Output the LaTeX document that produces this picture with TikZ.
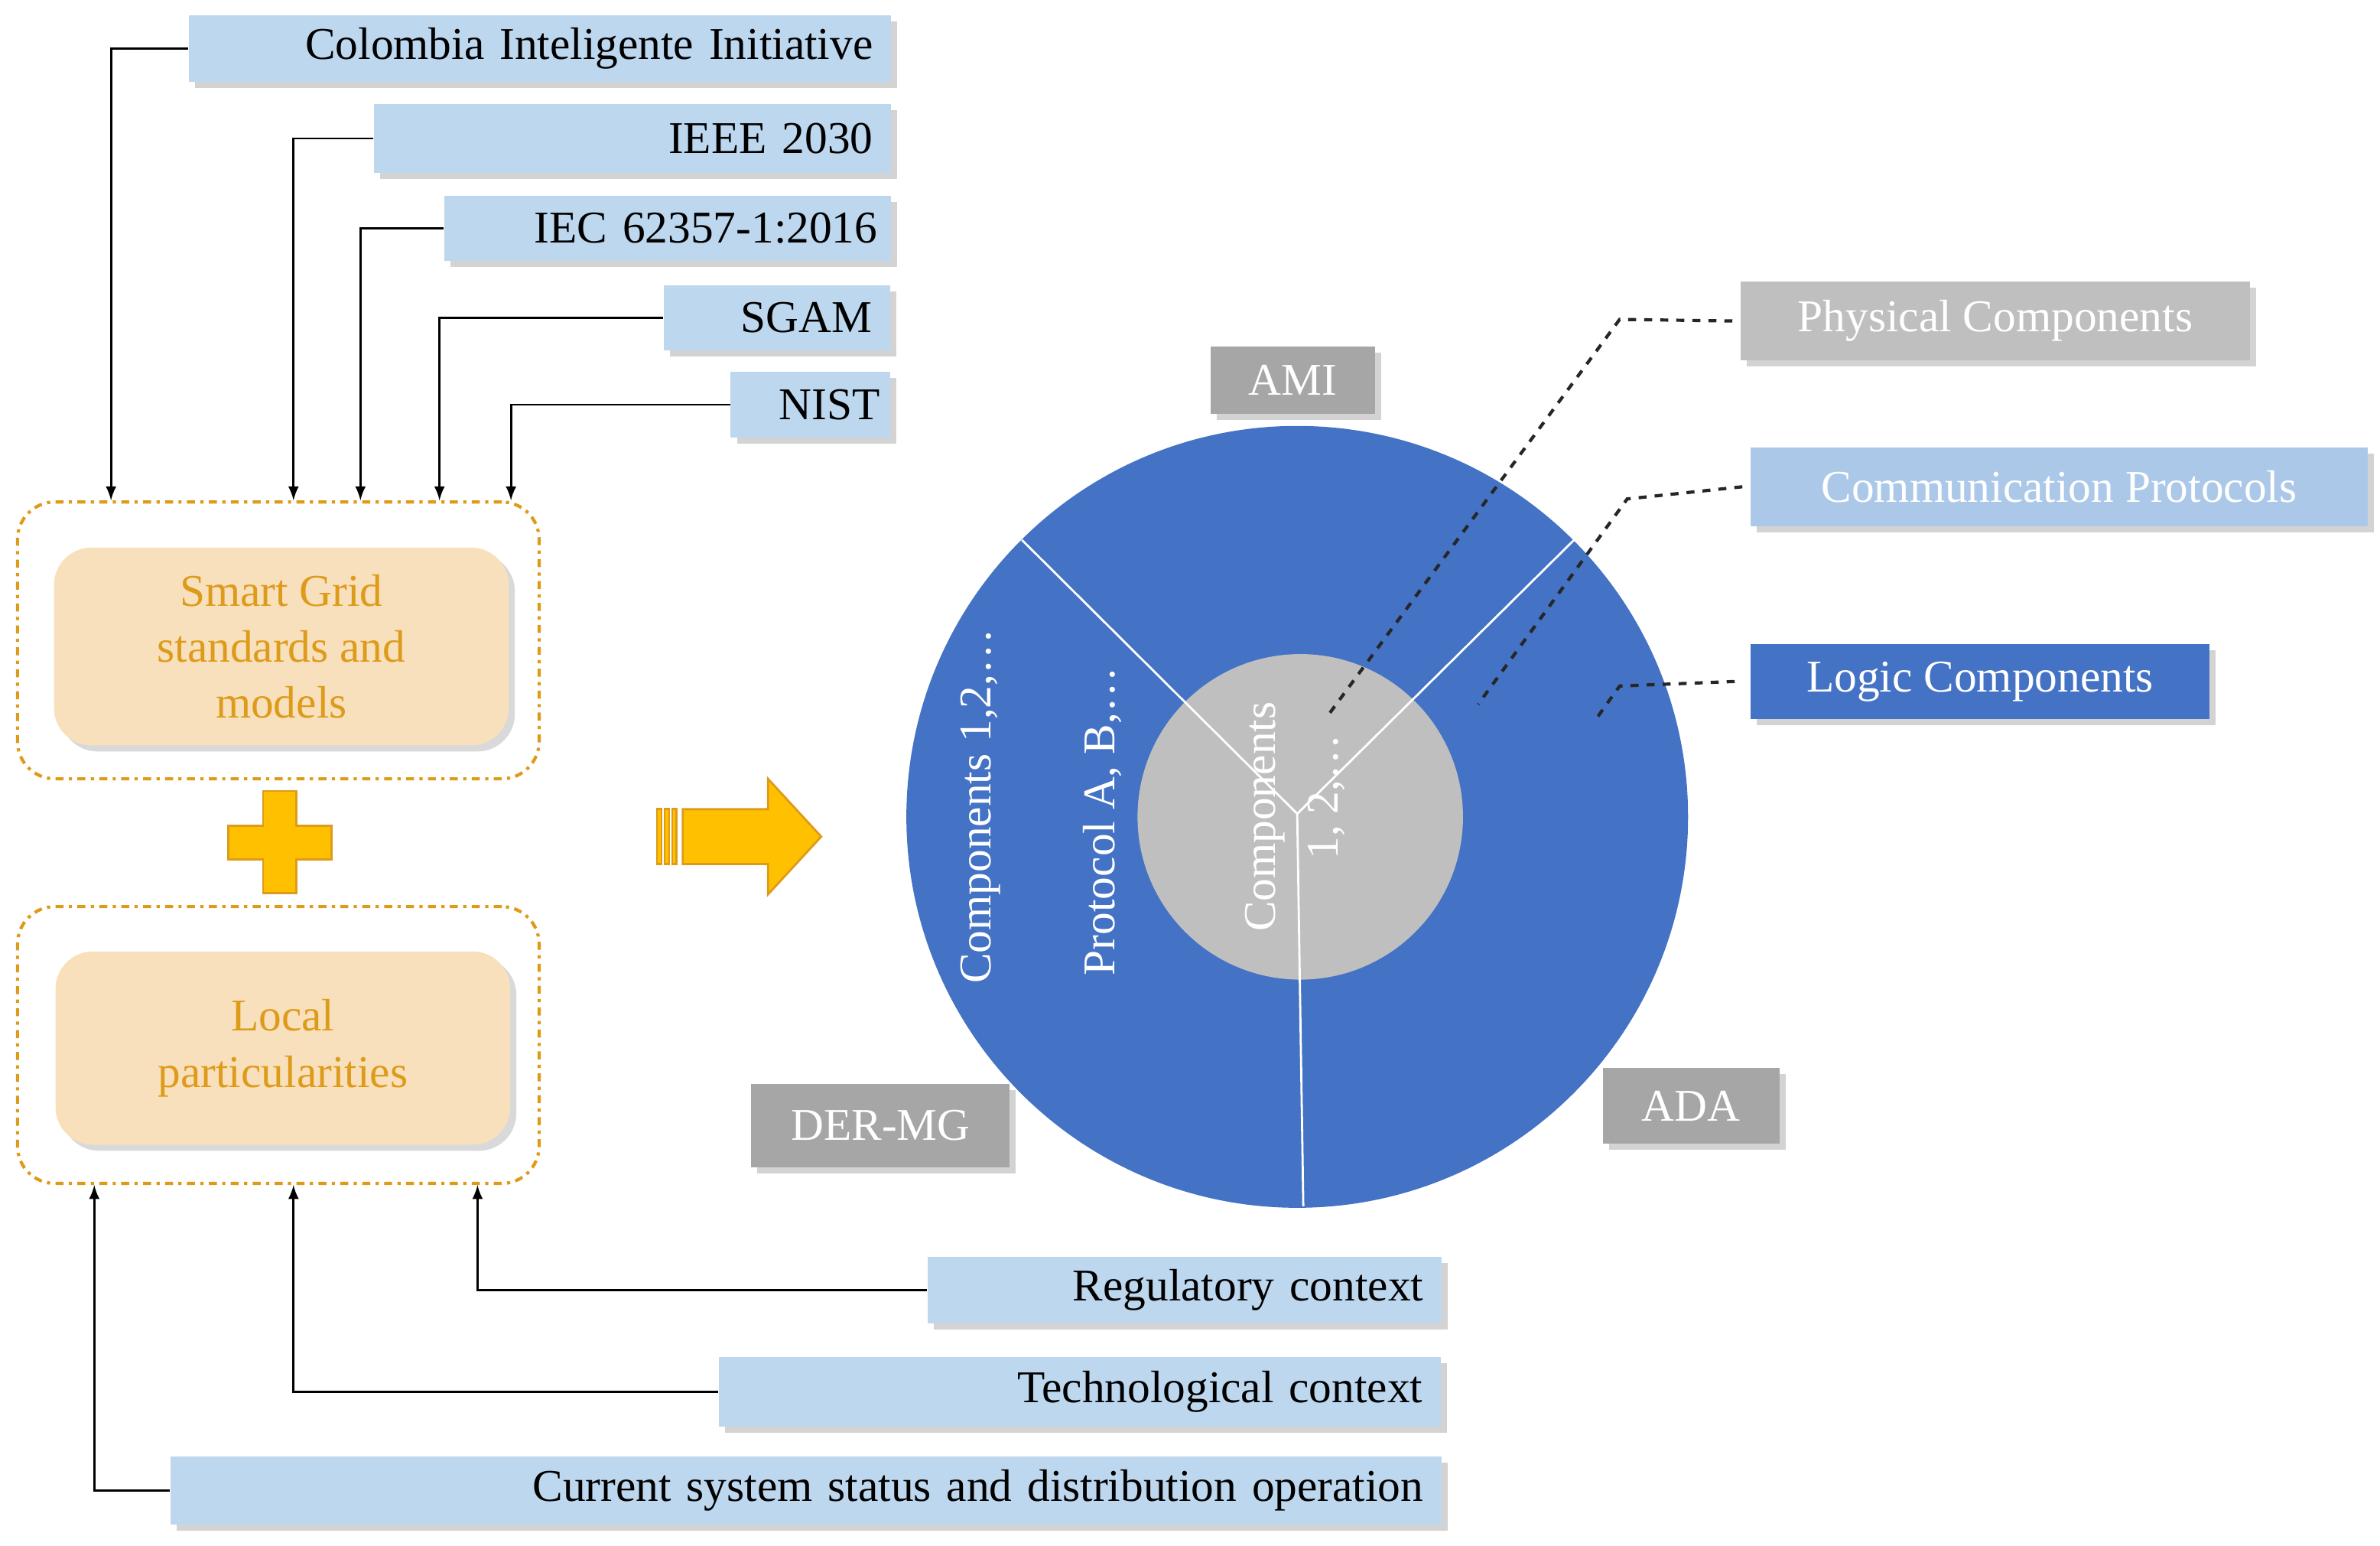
\documentclass[tikz,border=0pt]{standalone}
\usepackage{fontspec}
\setmainfont{Liberation Serif}
\usetikzlibrary{shadows,calc}
\definecolor{lblue}{HTML}{BDD7EE}
\definecolor{mblue}{HTML}{4472C4}
\definecolor{sgray}{HTML}{A6A6A6}
\definecolor{cgray}{HTML}{BFBFBF}
\definecolor{tan}{HTML}{F8E0BD}
\definecolor{ora}{HTML}{DE9B1A}
\definecolor{gold}{HTML}{FFC000}
\begin{document}
\begin{tikzpicture}%
	[x=0.02cm, y=-0.02cm,
	lbl/.style={fill=lblue, drop shadow={opacity=0.35}, inner sep=0pt, font=\fontsize{17}{20}\selectfont},
	tag/.style={fill=sgray, text=white, drop shadow={opacity=0.35}, inner sep=0pt, font=\fontsize{17}{20}\selectfont},
	feed/.style={thick, -latex},
	frame/.style={draw=ora, very thick, dash dot, rounded corners=14pt},
	core/.style={fill=tan, rounded corners=14pt, drop shadow={opacity=0.3}, text=ora, align=center, font=\fontsize{17}{21}\selectfont},
	lead/.style={very thick, dashed, draw=black!85},
	wtxt/.style={text=white, font=\fontsize{17}{20}\selectfont, rotate=90}]
%
\useasboundingbox (0,0) rectangle (1565,1016);
%
%% standards
\node[lbl, minimum width=462*0.02cm, minimum height=44*0.02cm, text width=438*0.02cm, align=right] (cig) at (355,32) {Colombia Inteligente Initiative};
\node[lbl, minimum width=340*0.02cm, minimum height=45*0.02cm, text width=316*0.02cm, align=right] (ieee) at (416,91) {IEEE 2030};
\node[lbl, minimum width=294*0.02cm, minimum height=43*0.02cm, text width=276*0.02cm, align=right] (iec) at (439,150) {IEC 62357-1:2016};
\node[lbl, minimum width=149*0.02cm, minimum height=43*0.02cm, text width=125*0.02cm, align=right] (sgam) at (511,209) {SGAM};
\node[lbl, minimum width=105*0.02cm, minimum height=43*0.02cm, text width=91*0.02cm, align=right] (nist) at (533,266) {NIST};
%
\node[frame, minimum width=343*0.02cm, minimum height=182*0.02cm] (sgbox) at (183,421) {};
\node[core, minimum width=299*0.02cm, minimum height=130*0.02cm] (sg) at (185,425) {Smart Grid\\standards and\\models};
%
\draw[feed] (cig.west) -| (sgbox.north -| 73,0);
\draw[feed] (ieee.west) -| (sgbox.north -| 193,0);
\draw[feed] (iec.west) -| (sgbox.north -| 237,0);
\draw[feed] (sgam.west) -| (sgbox.north -| 289,0);
\draw[feed] (nist.west) -| (sgbox.north -| 336,0);
%
%% plus
\filldraw[draw=ora, fill=gold, thick] (173,520) -- (195,520) -- (195,543) -- (218,543) -- (218,565) -- (195,565) -- (195,587) -- (173,587) -- (173,565) -- (150,565) -- (150,543) -- (173,543) -- cycle;
%
%% local
\node[frame, minimum width=343*0.02cm, minimum height=182*0.02cm] (lcbox) at (183,687) {};
\node[core, minimum width=299*0.02cm, minimum height=127*0.02cm] (lc) at (186,689) {Local\\particularities};
%
\node[lbl, minimum width=338*0.02cm, minimum height=44*0.02cm, text width=314*0.02cm, align=right] (reg) at (779,848) {Regulatory context};
\node[lbl, minimum width=475*0.02cm, minimum height=46*0.02cm, text width=451*0.02cm, align=right] (tech) at (710,915) {Technological context};
\node[lbl, minimum width=836*0.02cm, minimum height=45*0.02cm, text width=812*0.02cm, align=right] (cur) at (530,980) {Current system status and distribution operation};
%
\draw[feed] (reg.west) -| (lcbox.south -| 314,0);
\draw[feed] (tech.west) -| (lcbox.south -| 193,0);
\draw[feed] (cur.west) -| (lcbox.south -| 62,0);
%
%% big arrow
\filldraw[draw=ora, fill=gold, thick] (449,532) -- (505,532) -- (505,512) -- (540,550) -- (505,588) -- (505,568) -- (449,568) -- cycle;
\foreach \s in {432,437,442}
  \filldraw[draw=ora, fill=gold, thick] (\s,532) rectangle (\s+3,568);
%
%% circle
\coordinate (ctr) at (853,537);
\fill[mblue] (ctr) circle (257);
\fill[cgray] (855,537) circle (107);
\draw[white, thick] (853,535) -- (672,355);
\draw[white, thick] (853,535) -- (1035,355);
\draw[white, thick] (853,535) -- (857,793);
\node[wtxt] (cmp) at (645,530) {Components 1,2,…};
\node[wtxt] (prt) at (725,540) {Protocol A, B,…};
\node[wtxt] (cin) at (832,537) {Components};
\node[wtxt] (num) at (872,524) {1, 2,…};
%
\node[tag, minimum width=108*0.02cm, minimum height=44*0.02cm] (ami) at (850,250) {AMI};
\node[tag, minimum width=170*0.02cm, minimum height=55*0.02cm] (der) at (579,740) {DER-MG};
\node[tag, minimum width=116*0.02cm, minimum height=50*0.02cm] (ada) at (1112,727) {ADA};
%
%% legend
\node[tag, fill=cgray, minimum width=335*0.02cm, minimum height=52*0.02cm] (phy) at (1312,211) {Physical Components};
\node[tag, fill=lblue!85!mblue, minimum width=406*0.02cm, minimum height=52*0.02cm] (com) at (1354,320) {Communication Protocols};
\node[tag, fill=mblue, minimum width=302*0.02cm, minimum height=49*0.02cm] (log) at (1302,448) {Logic Components};
%
\draw[lead] ([xshift=-0.1cm]phy.west) -- (1065,210) -- (872,472);
\draw[lead] ([xshift=-0.1cm]com.west) -- (1070,328) -- (972,463);
\draw[lead] ([xshift=-0.2cm]log.west) -- (1065,451) -- (1050,472);
%
\end{tikzpicture}
\end{document}
